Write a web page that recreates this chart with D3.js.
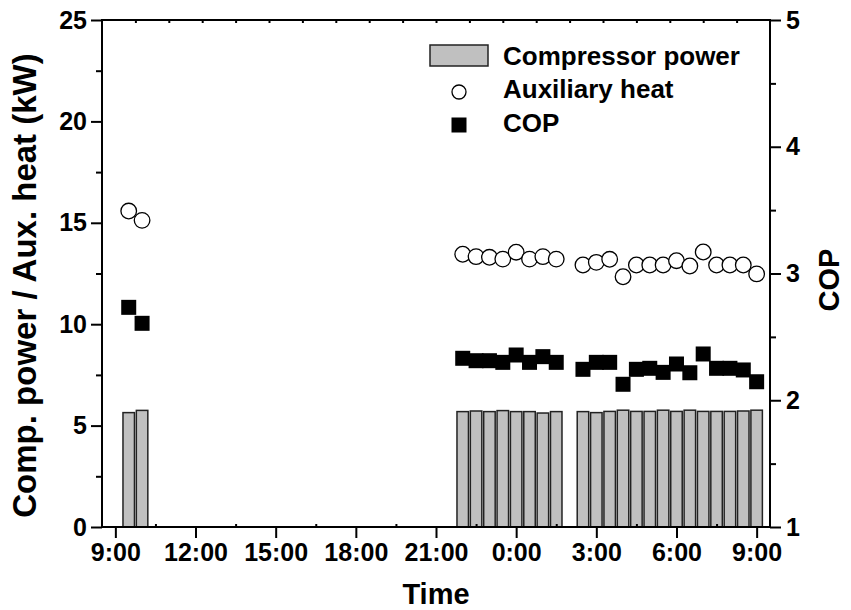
<!DOCTYPE html>
<html>
<head>
<meta charset="utf-8">
<script src="https://cdn.jsdelivr.net/npm/d3@7"></script>
<style>
  html, body { margin: 0; padding: 0; background: #fff; }
  svg text { font-family: "Liberation Sans", Arial, sans-serif; font-weight: bold; fill: #000; }
</style>
</head>
<body>
<svg id="chart" width="851" height="610"></svg>
<script>
// ---- data (time in hours from midnight of day 1; next day = +24) ----
const timeHours = [9.5, 10, 22, 22.5, 23, 23.5, 24, 24.5, 25, 25.5,
  26.5, 27, 27.5, 28, 28.5, 29, 29.5, 30, 30.5, 31, 31.5, 32, 32.5, 33];
const compPower = [5.64, 5.75, 5.69, 5.72, 5.69, 5.74, 5.69, 5.69, 5.62, 5.69,
  5.69, 5.64, 5.70, 5.76, 5.70, 5.70, 5.76, 5.70, 5.76, 5.70, 5.70, 5.70, 5.72, 5.76];
const auxHeat = [15.58, 15.12, 13.45, 13.33, 13.30, 13.21, 13.55, 13.21, 13.33, 13.21,
  12.92, 13.05, 13.20, 12.34, 12.92, 12.92, 12.92, 13.13, 12.87, 13.56, 12.92, 12.92, 12.92, 12.48];
const cop = [2.733, 2.607, 2.331, 2.312, 2.312, 2.299, 2.357, 2.299, 2.344, 2.299,
  2.244, 2.299, 2.299, 2.126, 2.244, 2.252, 2.220, 2.286, 2.217, 2.365, 2.252, 2.252, 2.239, 2.146];
const xTicks = [9, 12, 15, 18, 21, 24, 27, 30, 33];
const xTickLabels = ["9:00", "12:00", "15:00", "18:00", "21:00", "0:00", "3:00", "6:00", "9:00"];
const yLeftTicks = [0, 5, 10, 15, 20, 25];
const yRightTicks = [1, 2, 3, 4, 5];
const legendLabels = ["Compressor power", "Auxiliary heat", "COP"];

// ---- layout ----
const L = 102, R = 770, T = 20, B = 527;
const svg = d3.select("#chart");

const x = d3.scaleLinear().domain([8.5, 33.5]).range([L, R]);
const yL = d3.scaleLinear().domain([0, 25]).range([B, T]);
const yR = d3.scaleLinear().domain([1, 5]).range([B, T]);

const data = timeHours.map((t, i) => ({ t, p: compPower[i], a: auxHeat[i], c: cop[i] }));

// bars
const step = x(0.5) - x(0);
const bw = step * 0.86;
svg.append("g").selectAll("rect").data(data).join("rect")
  .attr("x", d => x(d.t) - bw / 2)
  .attr("y", d => yL(d.p))
  .attr("width", bw)
  .attr("height", d => yL(0) - yL(d.p))
  .attr("fill", "#c0c0c0")
  .attr("stroke", "#222")
  .attr("stroke-width", 1.5);

// COP squares
const sq = 15;
svg.append("g").selectAll("rect").data(data).join("rect")
  .attr("x", d => x(d.t) - sq / 2)
  .attr("y", d => yR(d.c) - sq / 2)
  .attr("width", sq).attr("height", sq)
  .attr("fill", "#000");

// aux heat circles
svg.append("g").selectAll("circle").data(data).join("circle")
  .attr("cx", d => x(d.t))
  .attr("cy", d => yL(d.a))
  .attr("r", 7.8)
  .attr("fill", "#fff")
  .attr("stroke", "#000")
  .attr("stroke-width", 1.3);

// ---- axes ----
function styleAxis(g, fs) {
  g.select(".domain").remove();
  g.selectAll(".tick line").attr("stroke", "#000").attr("stroke-width", 2);
  g.selectAll(".tick text").style("font-size", fs + "px");
}

// frame
svg.append("rect").attr("x", L).attr("y", T).attr("width", R - L).attr("height", B - T)
  .attr("fill", "none").attr("stroke", "#000").attr("stroke-width", 2);

// left axis
svg.append("g").attr("transform", `translate(${L},0)`)
  .call(d3.axisLeft(yL).tickValues(yLeftTicks).tickSize(11).tickPadding(4).tickFormat(d3.format("d")))
  .call(g => styleAxis(g, 25));
svg.append("g").attr("transform", `translate(${L},0)`)
  .call(d3.axisLeft(yL).tickValues(yLeftTicks.slice(0, -1).map(v => v + 2.5)).tickSize(6).tickFormat(""))
  .call(g => styleAxis(g, 25));

// right axis
svg.append("g").attr("transform", `translate(${R},0)`)
  .call(d3.axisRight(yR).tickValues(yRightTicks).tickSize(11).tickPadding(5).tickFormat(d3.format("d")))
  .call(g => styleAxis(g, 25));
svg.append("g").attr("transform", `translate(${R},0)`)
  .call(d3.axisRight(yR).tickValues(yRightTicks.slice(0, -1).map(v => v + 0.5)).tickSize(6).tickFormat(""))
  .call(g => styleAxis(g, 25));

// bottom axis
svg.append("g").attr("transform", `translate(0,${B})`)
  .call(d3.axisBottom(x).tickValues(xTicks).tickSize(11).tickPadding(5)
    .tickFormat((d, i) => xTickLabels[i]))
  .call(g => styleAxis(g, 25));
svg.append("g").attr("transform", `translate(0,${B})`)
  .call(d3.axisBottom(x).tickValues(xTicks.slice(0, -1).map(v => v + 1.5)).tickSize(-3).tickFormat(""))
  .call(g => styleAxis(g, 25));

// top tiny ticks
const xTop = d3.scaleLinear().domain([0, 20]).range([L, R]);
svg.append("g").attr("transform", `translate(0,${T})`)
  .call(d3.axisTop(xTop).tickValues(d3.range(1, 20)).tickSize(-3).tickFormat(""))
  .call(g => styleAxis(g, 25));

// axis titles
svg.append("text").attr("x", (L + R) / 2).attr("y", 604)
  .attr("text-anchor", "middle").style("font-size", "29px").text("Time");
svg.append("text").attr("transform", `translate(36,${(T + B) / 2 + 12}) rotate(-90)`)
  .attr("text-anchor", "middle").style("font-size", "33px").text("Comp. power / Aux. heat (kW)");
svg.append("text").attr("transform", `translate(839,280) rotate(-90)`)
  .attr("text-anchor", "middle").style("font-size", "29px").text("COP");

// ---- legend ----
const lg = svg.append("g");
lg.append("rect").attr("x", 430).attr("y", 45).attr("width", 58).attr("height", 21)
  .attr("fill", "#c0c0c0").attr("stroke", "#222").attr("stroke-width", 1.5);
lg.append("circle").attr("cx", 459).attr("cy", 92).attr("r", 7)
  .attr("fill", "#fff").attr("stroke", "#000").attr("stroke-width", 1.3);
lg.append("rect").attr("x", 459 - 7.5).attr("y", 125 - 7.5).attr("width", 15).attr("height", 15)
  .attr("fill", "#000");
[65, 98, 132].forEach((yy, i) => {
  lg.append("text").attr("x", 503).attr("y", yy).style("font-size", "26px").text(legendLabels[i]);
});
</script>
</body>
</html>
